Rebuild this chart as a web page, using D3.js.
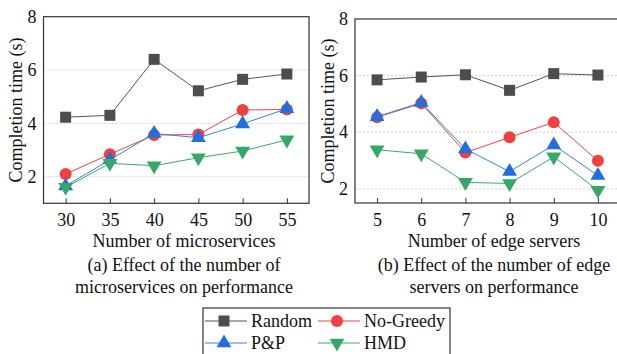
<!DOCTYPE html>
<html>
<head>
<meta charset="utf-8">
<script src="https://cdn.jsdelivr.net/npm/d3@7"></script>
<style>
  body { margin: 0; background: #fff; }
  svg { display: block; font-family: "Liberation Serif", "Times New Roman", serif; }
</style>
</head>
<body>
<svg id="chart" width="617" height="354"></svg>
<script>
// series names and values
const seriesNames = ["Random", "No-Greedy", "P&P", "HMD"];

const microservices = [30, 35, 40, 45, 50, 55];
const msRandom   = [4.23, 4.30, 6.40, 5.22, 5.65, 5.85];
const msNoGreedy = [2.10, 2.84, 3.56, 3.58, 4.50, 4.52];
const msPP       = [1.65, 2.63, 3.62, 3.46, 3.98, 4.55];
const msHMD      = [1.60, 2.50, 2.41, 2.71, 2.96, 3.38];

const edgeServers = [5, 6, 7, 8, 9, 10];
const esRandom   = [5.85, 5.95, 6.03, 5.48, 6.07, 6.02];
const esNoGreedy = [4.53, 5.02, 3.28, 3.82, 4.35, 2.99];
const esPP       = [4.55, 5.05, 3.41, 2.61, 3.55, 2.47];
const esHMD      = [3.38, 3.24, 2.23, 2.19, 3.13, 1.95];

const yTicks = [2, 4, 6, 8];

const styles = {
  "Random":    { color: "#4d4d4d", line: "#555", shape: "square" },
  "No-Greedy": { color: "#f04141", line: "#f04141", shape: "circle" },
  "P&P":       { color: "#1f6fe0", line: "#3a7fe6", shape: "up" },
  "HMD":       { color: "#35a866", line: "#3aaa6a", shape: "down" }
};

const svg = d3.select("#chart");

function marker(g, shape, color, cx, cy) {
  if (shape === "square") {
    g.append("rect").attr("x", cx - 5.5).attr("y", cy - 5.5)
      .attr("width", 11).attr("height", 11).attr("fill", color);
  } else if (shape === "circle") {
    g.append("circle").attr("cx", cx).attr("cy", cy).attr("r", 6).attr("fill", color);
  } else {
    const sym = d3.symbol().type(d3.symbolTriangle).size(95);
    g.append("path").attr("d", sym())
      .attr("transform", `translate(${cx},${cy})` + (shape === "down" ? " rotate(180)" : ""))
      .attr("fill", color);
  }
}

function drawPanel(p) {
  const x = d3.scaleLinear().domain(p.xDomain).range([p.left, p.right]);
  const y = d3.scaleLinear().domain(p.yDomain).range([p.bottom, p.top]);
  const g = svg.append("g");

  // grid
  g.selectAll(".grid").data(yTicks.filter(t => t < p.yDomain[1])).enter()
    .append("line")
    .attr("x1", p.left).attr("x2", p.right)
    .attr("y1", d => y(d)).attr("y2", d => y(d))
    .attr("stroke", "#c8c8c8").attr("stroke-width", 0.8)
    .attr("stroke-dasharray", "2,2");

  // series
  p.series.forEach((vals, i) => {
    const st = styles[seriesNames[i]];
    const line = d3.line().x((d, j) => x(p.xs[j])).y(d => y(d));
    g.append("path").datum(vals).attr("d", line)
      .attr("fill", "none").attr("stroke", st.line).attr("stroke-width", 1);
    vals.forEach((v, j) => marker(g, st.shape, st.color, x(p.xs[j]), y(v)));
  });

  // frame
  g.append("rect").attr("x", p.left).attr("y", p.top)
    .attr("width", p.right - p.left).attr("height", p.bottom - p.top)
    .attr("fill", "none").attr("stroke", "#333").attr("stroke-width", 1.2);

  const xAxis = g.append("g").attr("transform", `translate(0,${p.bottom})`)
    .call(d3.axisBottom(x).tickValues(p.xs).tickSize(-5).tickPadding(10).tickFormat(d3.format("d")));
  const yAxis = g.append("g").attr("transform", `translate(${p.left},0)`)
    .call(d3.axisLeft(y).tickValues(yTicks).tickSize(0).tickPadding(7).tickFormat(d3.format("d")));
  [xAxis, yAxis].forEach(a => {
    a.select(".domain").remove();
    a.selectAll("line").attr("stroke", "#333");
    a.selectAll("text").attr("fill", "#111").style("font-size", "18px")
      .style("font-family", "Liberation Serif, serif");
  });

  g.append("text")
    .attr("transform", `translate(${p.ylabelX},${(p.top + p.bottom) / 2}) rotate(-90)`)
    .attr("text-anchor", "middle").attr("dominant-baseline", "central")
    .style("font-size", "18px").attr("fill", "#111")
    .text("Completion time (s)");

  g.append("text").attr("x", p.labelX).attr("y", 247)
    .attr("text-anchor", "middle").style("font-size", "18px").attr("fill", "#111")
    .text(p.xlabel);
  p.caption.forEach((c, k) => {
    g.append("text").attr("x", p.labelX).attr("y", 271 + k * 22)
      .attr("text-anchor", "middle").style("font-size", "18px").attr("fill", "#111")
      .text(c);
  });
}

drawPanel({
  xs: microservices, series: [msRandom, msNoGreedy, msPP, msHMD],
  xDomain: [27.5, 57.5], yDomain: [1, 8],
  left: 43.5, right: 309, top: 16.7, bottom: 203.3,
  ylabelX: 16, labelX: 184,
  xlabel: "Number of microservices",
  caption: ["(a) Effect of the number of", "microservices on performance"]
});

drawPanel({
  xs: edgeServers, series: [esRandom, esNoGreedy, esPP, esHMD],
  xDomain: [4.5, 10.5], yDomain: [1.5, 8],
  left: 355, right: 620, top: 19, bottom: 203,
  ylabelX: 328, labelX: 494,
  xlabel: "Number of edge servers",
  caption: ["(b) Effect of the number of edge", "servers on performance"]
});

// legend
const lg = svg.append("g");
lg.append("rect").attr("x", 203).attr("y", 308).attr("width", 247).attr("height", 60)
  .attr("fill", "#fff").attr("stroke", "#333").attr("stroke-width", 1.2);
const legendPos = [[205, 321], [318, 321], [205, 343], [318, 343]];
seriesNames.forEach((name, i) => {
  const st = styles[name];
  const [lx, ly] = legendPos[i];
  lg.append("line").attr("x1", lx).attr("x2", lx + 42).attr("y1", ly).attr("y2", ly)
    .attr("stroke", st.line).attr("stroke-width", 1);
  marker(lg, st.shape, st.color, lx + 19, ly);
  lg.append("text").attr("x", lx + 46).attr("y", ly).attr("dominant-baseline", "central")
    .style("font-size", "18px").attr("fill", "#111").text(name);
});
</script>
</body>
</html>
